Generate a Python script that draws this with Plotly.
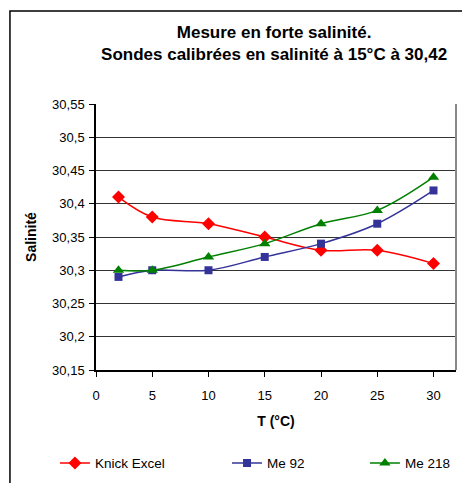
import plotly.graph_objects as go

# Temperature (°C)
temps = [2, 5, 10, 15, 20, 25, 30]

# Salinity readings per probe
knick_excel = [30.41, 30.38, 30.37, 30.35, 30.33, 30.33, 30.31]
me_92 = [30.29, 30.30, 30.30, 30.32, 30.34, 30.37, 30.42]
me_218 = [30.30, 30.30, 30.32, 30.34, 30.37, 30.39, 30.44]

# axis ticks
y_ticks = [30.15, 30.2, 30.25, 30.3, 30.35, 30.4, 30.45, 30.5, 30.55]
y_labels = ["30,15", "30,2", "30,25", "30,3", "30,35", "30,4", "30,45", "30,5", "30,55"]
x_ticks = [0, 5, 10, 15, 20, 25, 30]

FONT = "Liberation Sans, Arial, sans-serif"

fig = go.Figure()
fig.add_trace(go.Scatter(
    x=temps, y=knick_excel, name="Knick Excel", legend="legend",
    mode="lines+markers", line=dict(color="#FF0000", width=1.5, shape="spline", smoothing=1),
    marker=dict(symbol="diamond", size=10, color="#FF0000"),
))
fig.add_trace(go.Scatter(
    x=temps, y=me_92, name="Me 92", legend="legend2",
    mode="lines+markers", line=dict(color="#333399", width=1.5, shape="spline", smoothing=1),
    marker=dict(symbol="square", size=8, color="#333399"),
))
fig.add_trace(go.Scatter(
    x=temps, y=me_218, name="Me 218", legend="legend3",
    mode="lines+markers", line=dict(color="#008000", width=1.5, shape="spline", smoothing=1),
    marker=dict(symbol="triangle-up", size=10, color="#008000"),
))

# outer chart border (Excel chart area), right and bottom edges fall off the page
fig.add_shape(type="rect", xref="paper", yref="paper",
              x0=-0.239, x1=1.2, y0=-0.6, y1=1.35,
              line=dict(color="black", width=1.5), layer="below")
# right edge of plot area
fig.add_shape(type="line", xref="paper", yref="paper",
              x0=1, x1=1, y0=0, y1=1, line=dict(color="#888888", width=2))

leg = dict(orientation="h", yanchor="middle", y=-0.35, xanchor="left",
           font=dict(size=13.5), itemwidth=30, bgcolor="rgba(0,0,0,0)")

# page body has an 8px margin, so the figure is sized to fit inside the window
fig.update_layout(
    width=462, height=475,
    margin=dict(l=88, r=14, t=96, b=113, autoexpand=False),
    paper_bgcolor="white", plot_bgcolor="white",
    font=dict(family=FONT, size=12, color="black"),
    separators=", ",
    title=dict(
        text="<b>Mesure en forte salinité.</b><br><b>Sondes calibrées en salinité à 15°C à 30,42</b>",
        x=0.576, xanchor="center", y=0.937, yanchor="middle",
        font=dict(size=17),
    ),
    xaxis=dict(
        range=[0, 32], tickvals=x_ticks, showgrid=False, zeroline=False,
        showline=True, linecolor="black", linewidth=1.5,
        ticks="outside", ticklen=5, tickcolor="black", ticklabelstandoff=8,
        tickfont=dict(size=13),
        title=dict(text="<b>T (°C)</b>", font=dict(size=14), standoff=14),
    ),
    yaxis=dict(
        range=[30.15, 30.55], tickvals=y_ticks, ticktext=y_labels,
        showgrid=True, gridcolor="#333333", gridwidth=1, zeroline=False,
        showline=True, linecolor="black", linewidth=1.5,
        ticks="outside", ticklen=5, tickcolor="black", ticklabelstandoff=2,
        tickfont=dict(size=13),
        title=dict(text="<b>Salinité</b>", font=dict(size=14), standoff=12),
    ),
    legend=dict(leg, x=-0.114),
    legend2=dict(leg, x=0.364),
    legend3=dict(leg, x=0.747),
    showlegend=True,
)

fig.write_html("out.html")
